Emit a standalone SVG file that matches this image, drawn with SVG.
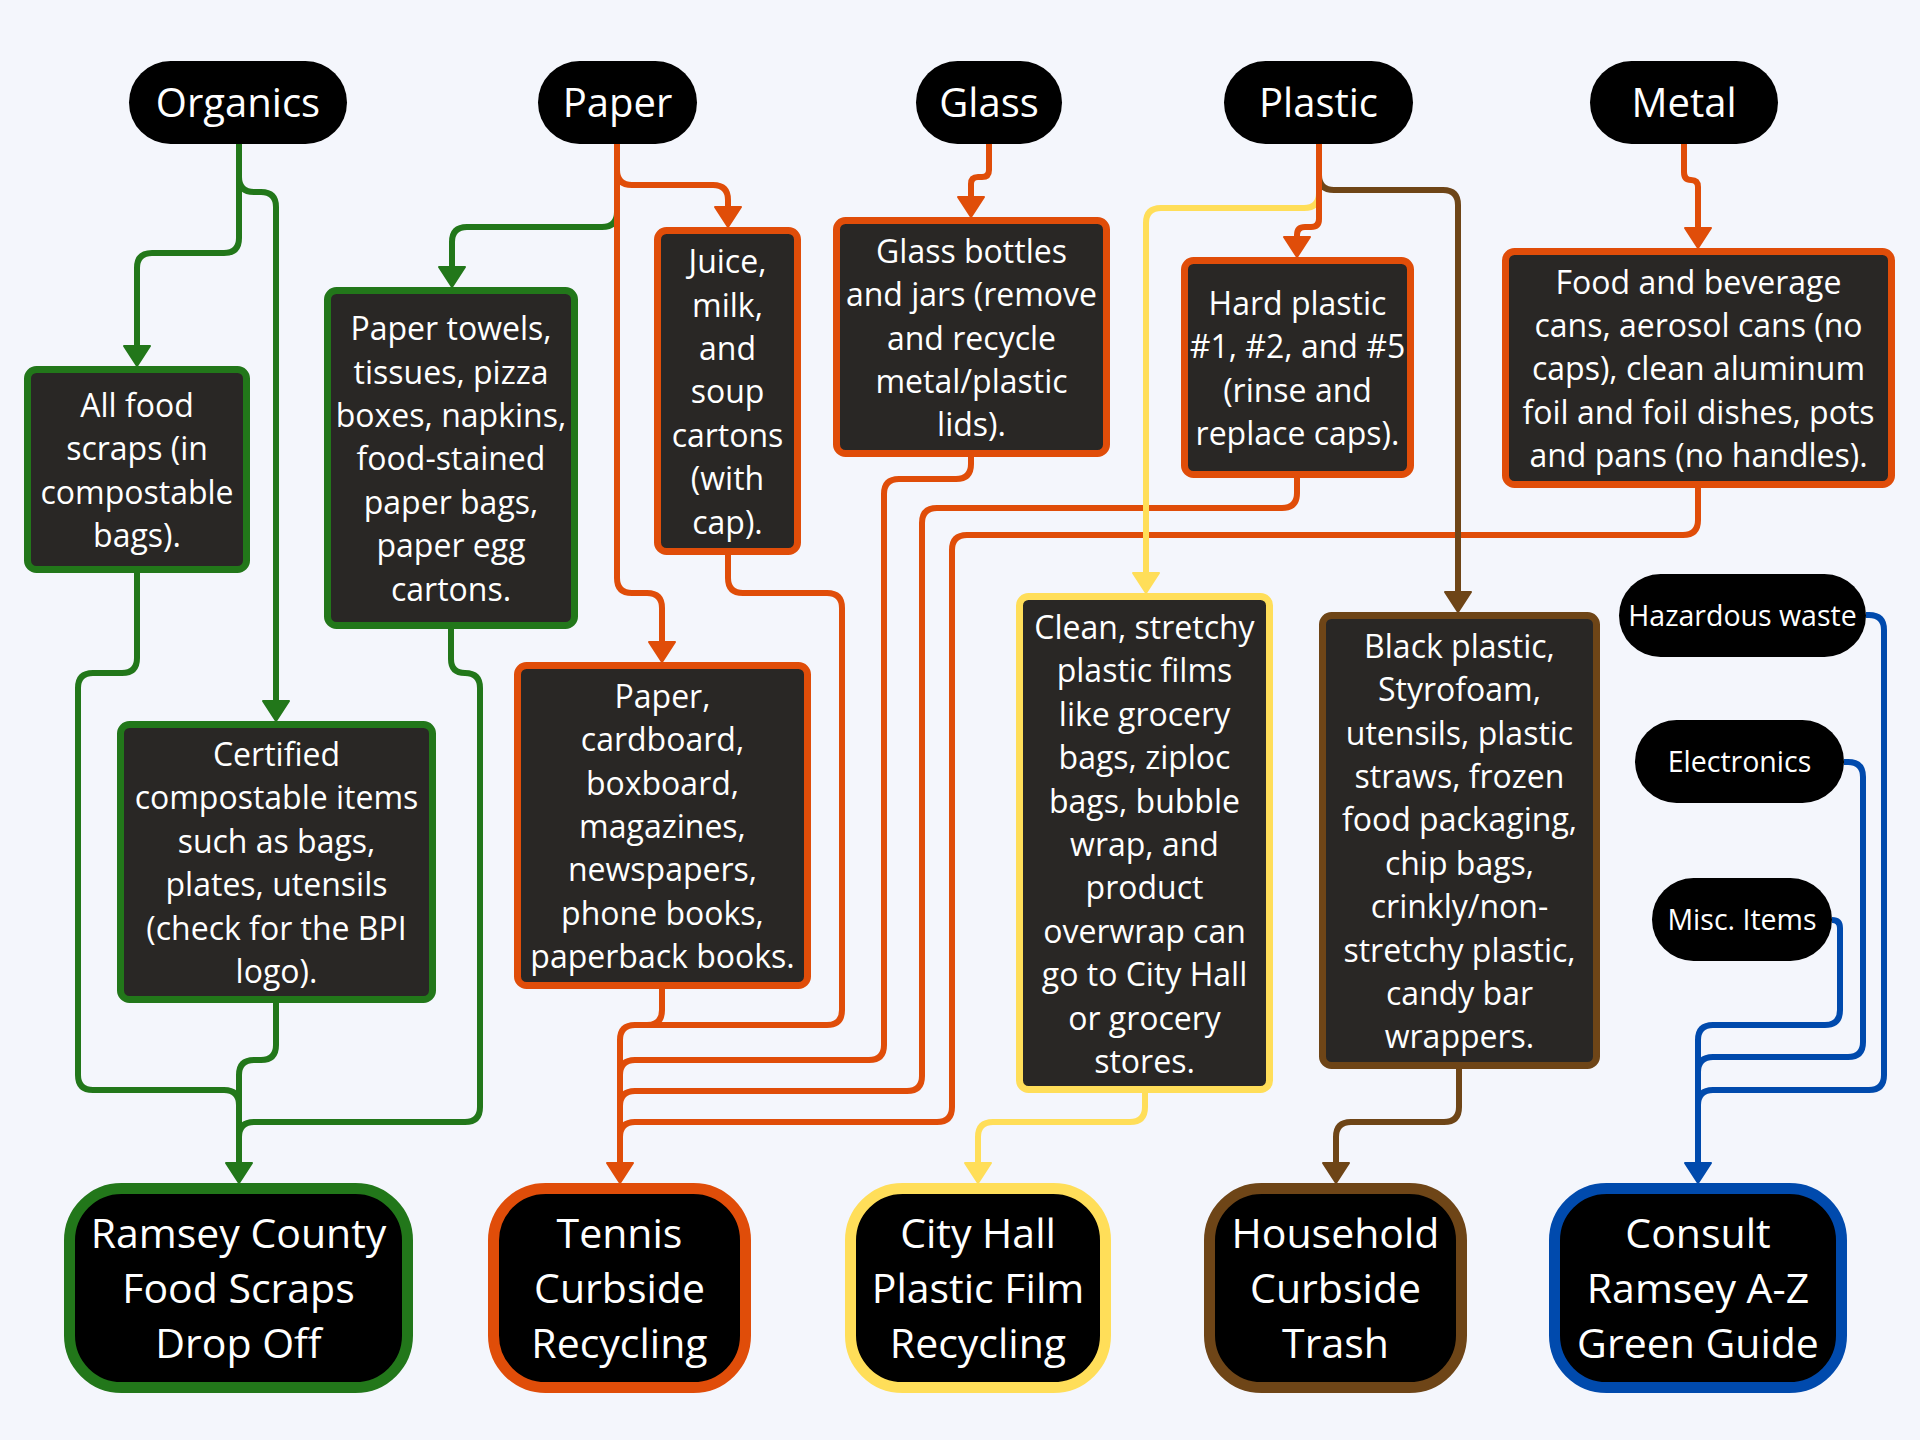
<svg xmlns="http://www.w3.org/2000/svg" width="1920" height="1440" viewBox="0 0 1920 1440">
<style>
.pill{fill:#000}
.box{fill:#292725;stroke-width:7}
.dest{fill:#000;stroke-width:11}
.c{fill:none;stroke-width:6;stroke-linejoin:round}
.gr{stroke:#22771A}.or{stroke:#E04D09}.ye{stroke:#FFDE59}.br{stroke:#6E4517}.bl{stroke:#004AAD}
text{font-family:"Open Sans","Noto Sans",sans-serif;font-weight:500;fill:#fff;text-anchor:middle}
.t32{font-size:32px}.t40{font-size:40px}.t41{font-size:41px}.t28{font-size:28.5px}
</style>
<defs>
<marker id="aG" viewBox="-2 -2 30 24" refX="13" refY="0" markerWidth="30" markerHeight="24" markerUnits="userSpaceOnUse" orient="0" overflow="visible"><path d="M0 0H26L13 20Z" fill="#22771A" stroke="#22771A" stroke-width="2" stroke-linejoin="round"/></marker>
<marker id="aO" viewBox="-2 -2 30 24" refX="13" refY="0" markerWidth="30" markerHeight="24" markerUnits="userSpaceOnUse" orient="0" overflow="visible"><path d="M0 0H26L13 20Z" fill="#E04D09" stroke="#E04D09" stroke-width="2" stroke-linejoin="round"/></marker>
<marker id="aY" viewBox="-2 -2 30 24" refX="13" refY="0" markerWidth="30" markerHeight="24" markerUnits="userSpaceOnUse" orient="0" overflow="visible"><path d="M0 0H26L13 20Z" fill="#FFDE59" stroke="#FFDE59" stroke-width="2" stroke-linejoin="round"/></marker>
<marker id="aB" viewBox="-2 -2 30 24" refX="13" refY="0" markerWidth="30" markerHeight="24" markerUnits="userSpaceOnUse" orient="0" overflow="visible"><path d="M0 0H26L13 20Z" fill="#6E4517" stroke="#6E4517" stroke-width="2" stroke-linejoin="round"/></marker>
<marker id="aL" viewBox="-2 -2 30 24" refX="13" refY="0" markerWidth="30" markerHeight="24" markerUnits="userSpaceOnUse" orient="0" overflow="visible"><path d="M0 0H26L13 20Z" fill="#004AAD" stroke="#004AAD" stroke-width="2" stroke-linejoin="round"/></marker>
</defs>
<rect width="1920" height="1440" fill="#F4F6FC"/>

<g id="connectors">
<path class="c gr" marker-end="url(#aG)" d="M239 144V238Q239 253 224 253H152Q137 253 137 268V346"/>
<path class="c gr" marker-end="url(#aG)" d="M239 144V177Q239 192 254 192H261Q276 192 276 207V701"/>
<path class="c gr" marker-end="url(#aG)" d="M617 144V212Q617 227 602 227H467Q452 227 452 242V267"/>
<path class="c gr" marker-end="url(#aG)" d="M137 573V658Q137 673 122 673H93Q78 673 78 688V1075Q78 1090 93 1090H224Q239 1090 239 1105V1163"/>
<path class="c gr" d="M276 1003V1045Q276 1060 261 1060H254Q239 1060 239 1075V1110"/>
<path class="c gr" d="M451 629V659Q451 673 465 673Q480 673 480 688V1107Q480 1122 465 1122H254Q239 1122 239 1137V1150"/>

<path class="c or" marker-end="url(#aO)" d="M617 144V170Q617 185 632 185H713Q728 185 728 200V207"/>
<path class="c or" marker-end="url(#aO)" d="M617 144V578Q617 593 632 593H647Q662 593 662 608V642"/>
<path class="c or" marker-end="url(#aO)" d="M989 144V170Q989 177 982 177H978Q971 177 971 184V197"/>
<path class="c or" marker-end="url(#aO)" d="M1684 144V172Q1684 180 1691 180Q1698 180 1698 187V228"/>
<path class="c or" marker-end="url(#aO)" d="M728 555V578Q728 593 743 593H827Q842 593 842 608V1010Q842 1025 827 1025H635Q620 1025 620 1040V1163"/>
<path class="c or" d="M662 989V1010Q662 1025 647 1025H635"/>
<path class="c or" d="M971 457V464Q971 479 956 479H899Q884 479 884 494V1045Q884 1060 869 1060H635Q620 1060 620 1075V1110"/>
<path class="c or" d="M1297 478V493Q1297 508 1282 508H937Q922 508 922 523V1076Q922 1091 907 1091H635Q620 1091 620 1106V1140"/>
<path class="c or" d="M1698 488V520Q1698 535 1683 535H967Q952 535 952 550V1107Q952 1122 937 1122H635Q620 1122 620 1137V1155"/>

<path class="c ye" marker-end="url(#aY)" d="M1319 144V193Q1319 208 1304 208H1161Q1146 208 1146 223V573"/>
<path class="c ye" marker-end="url(#aY)" d="M1145 1093V1107Q1145 1122 1130 1122H993Q978 1122 978 1137V1163"/>

<path class="c br" marker-end="url(#aB)" d="M1319 144V175Q1319 190 1334 190H1443Q1458 190 1458 205V592"/>
<path class="c br" marker-end="url(#aB)" d="M1459 1069V1107Q1459 1122 1444 1122H1351Q1336 1122 1336 1137V1163"/>

<path class="c or" marker-end="url(#aO)" d="M1319 144V219Q1319 227 1311 227H1305Q1297 227 1297 235V237"/>

<path class="c bl" d="M1866 615H1869Q1884 615 1884 630V1075Q1884 1090 1869 1090H1713Q1698 1090 1698 1105V1150"/>
<path class="c bl" d="M1844 762H1848Q1863 762 1863 777V1042Q1863 1057 1848 1057H1713Q1698 1057 1698 1072V1120"/>
<path class="c bl" marker-end="url(#aL)" d="M1832 920Q1840 920 1840 928V1010Q1840 1025 1825 1025H1713Q1698 1025 1698 1040V1163"/>
</g>

<g id="organics"><rect class="pill" x="129" y="61" width="218" height="83" rx="41.5"/><text class="t40" x="238" y="117">Organics</text></g>
<g id="paper"><rect class="pill" x="538" y="61" width="159" height="83" rx="41.5"/><text class="t40" x="617.5" y="117">Paper</text></g>
<g id="glass"><rect class="pill" x="916" y="61" width="146" height="83" rx="41.5"/><text class="t40" x="989" y="117">Glass</text></g>
<g id="plastic"><rect class="pill" x="1224" y="61" width="189" height="83" rx="41.5"/><text class="t40" x="1318.5" y="117">Plastic</text></g>
<g id="metal"><rect class="pill" x="1590" y="61" width="188" height="83" rx="41.5"/><text class="t40" x="1684" y="117">Metal</text></g>

<g id="food-scraps"><rect class="box gr" x="27.5" y="369.5" width="219" height="200" rx="9"/>
<text class="t32" x="137"><tspan x="137" y="417">All food</tspan><tspan x="137" y="460">scraps (in</tspan><tspan x="137" y="504">compostable</tspan><tspan x="137" y="547">bags).</tspan></text></g>

<g id="paper-towels"><rect class="box gr" x="327.5" y="290.5" width="247" height="335" rx="9"/>
<text class="t32"><tspan x="451" y="340">Paper towels,</tspan><tspan x="451" y="384">tissues, pizza</tspan><tspan x="451" y="427">boxes, napkins,</tspan><tspan x="451" y="470">food-stained</tspan><tspan x="451" y="514">paper bags,</tspan><tspan x="451" y="557">paper egg</tspan><tspan x="451" y="601">cartons.</tspan></text></g>

<g id="juice"><rect class="box or" x="657.5" y="230.5" width="140" height="321" rx="9"/>
<text class="t32"><tspan x="727.5" y="273">Juice,</tspan><tspan x="727.5" y="317">milk,</tspan><tspan x="727.5" y="360">and</tspan><tspan x="727.5" y="403">soup</tspan><tspan x="727.5" y="447">cartons</tspan><tspan x="727.5" y="490">(with</tspan><tspan x="727.5" y="534">cap).</tspan></text></g>

<g id="glass-bottles"><rect class="box or" x="836.5" y="220.5" width="270" height="233" rx="9"/>
<text class="t32"><tspan x="971.5" y="263">Glass bottles</tspan><tspan x="971.5" y="306">and jars (remove</tspan><tspan x="971.5" y="350">and recycle</tspan><tspan x="971.5" y="393">metal/plastic</tspan><tspan x="971.5" y="436">lids).</tspan></text></g>

<g id="hard-plastic"><rect class="box or" x="1184.5" y="260.5" width="226" height="214" rx="9"/>
<text class="t32"><tspan x="1297.5" y="315">Hard plastic</tspan><tspan x="1297.5" y="358">#1, #2, and #5</tspan><tspan x="1297.5" y="402">(rinse and</tspan><tspan x="1297.5" y="445">replace caps).</tspan></text></g>

<g id="metal-items"><rect class="box or" x="1505.5" y="251.5" width="386" height="233" rx="9"/>
<text class="t32"><tspan x="1698.5" y="294">Food and beverage</tspan><tspan x="1698.5" y="337">cans, aerosol cans (no</tspan><tspan x="1698.5" y="380">caps), clean aluminum</tspan><tspan x="1698.5" y="424">foil and foil dishes, pots</tspan><tspan x="1698.5" y="467">and pans (no handles).</tspan></text></g>

<g id="certified"><rect class="box gr" x="120.5" y="724.5" width="312" height="275" rx="9"/>
<text class="t32"><tspan x="276.5" y="766">Certified</tspan><tspan x="276.5" y="809">compostable items</tspan><tspan x="276.5" y="853">such as bags,</tspan><tspan x="276.5" y="896">plates, utensils</tspan><tspan x="276.5" y="940">(check for the BPI</tspan><tspan x="276.5" y="983">logo).</tspan></text></g>

<g id="paper-cardboard"><rect class="box or" x="517.5" y="665.5" width="290" height="320" rx="9"/>
<text class="t32"><tspan x="662.5" y="708">Paper,</tspan><tspan x="662.5" y="751">cardboard,</tspan><tspan x="662.5" y="795">boxboard,</tspan><tspan x="662.5" y="838">magazines,</tspan><tspan x="662.5" y="881">newspapers,</tspan><tspan x="662.5" y="925">phone books,</tspan><tspan x="662.5" y="968">paperback books.</tspan></text></g>

<g id="plastic-films"><rect class="box ye" x="1019.5" y="596.5" width="250" height="493" rx="9"/>
<text class="t32"><tspan x="1144.5" y="639">Clean, stretchy</tspan><tspan x="1144.5" y="682">plastic films</tspan><tspan x="1144.5" y="726">like grocery</tspan><tspan x="1144.5" y="769">bags, ziploc</tspan><tspan x="1144.5" y="813">bags, bubble</tspan><tspan x="1144.5" y="856">wrap, and</tspan><tspan x="1144.5" y="899">product</tspan><tspan x="1144.5" y="943">overwrap can</tspan><tspan x="1144.5" y="986">go to City Hall</tspan><tspan x="1144.5" y="1030">or grocery</tspan><tspan x="1144.5" y="1073">stores.</tspan></text></g>

<g id="black-plastic"><rect class="box br" x="1322.5" y="615.5" width="274" height="450" rx="9"/>
<text class="t32"><tspan x="1459.5" y="658">Black plastic,</tspan><tspan x="1459.5" y="701">Styrofoam,</tspan><tspan x="1459.5" y="745">utensils, plastic</tspan><tspan x="1459.5" y="788">straws, frozen</tspan><tspan x="1459.5" y="831">food packaging,</tspan><tspan x="1459.5" y="875">chip bags,</tspan><tspan x="1459.5" y="918">crinkly/non-</tspan><tspan x="1459.5" y="962">stretchy plastic,</tspan><tspan x="1459.5" y="1005">candy bar</tspan><tspan x="1459.5" y="1048">wrappers.</tspan></text></g>

<g id="hazardous"><rect class="pill" x="1619" y="574" width="247" height="83" rx="41.5"/><text class="t28" x="1742.5" y="626">Hazardous waste</text></g>
<g id="electronics"><rect class="pill" x="1635" y="720" width="209" height="83" rx="41.5"/><text class="t28" x="1739.5" y="772">Electronics</text></g>
<g id="misc"><rect class="pill" x="1652" y="878" width="180" height="83" rx="41.5"/><text class="t28" x="1742" y="930">Misc. Items</text></g>

<g id="ramsey-dropoff"><rect class="dest gr" x="69.5" y="1188.5" width="338" height="199" rx="52"/>
<text class="t41"><tspan x="238.5" y="1248">Ramsey County</tspan><tspan x="238.5" y="1303">Food Scraps</tspan><tspan x="238.5" y="1358">Drop Off</tspan></text></g>
<g id="tennis"><rect class="dest or" x="493.5" y="1188.5" width="252" height="199" rx="52"/>
<text class="t41"><tspan x="619.5" y="1248">Tennis</tspan><tspan x="619.5" y="1303">Curbside</tspan><tspan x="619.5" y="1358">Recycling</tspan></text></g>
<g id="city-hall"><rect class="dest ye" x="850.5" y="1188.5" width="255" height="199" rx="52"/>
<text class="t41"><tspan x="978" y="1248">City Hall</tspan><tspan x="978" y="1303">Plastic Film</tspan><tspan x="978" y="1358">Recycling</tspan></text></g>
<g id="household"><rect class="dest br" x="1209.5" y="1188.5" width="252" height="199" rx="52"/>
<text class="t41"><tspan x="1335.5" y="1248">Household</tspan><tspan x="1335.5" y="1303">Curbside</tspan><tspan x="1335.5" y="1358">Trash</tspan></text></g>
<g id="consult"><rect class="dest bl" x="1554.5" y="1188.5" width="287" height="199" rx="52"/>
<text class="t41"><tspan x="1698" y="1248">Consult</tspan><tspan x="1698" y="1303">Ramsey A-Z</tspan><tspan x="1698" y="1358">Green Guide</tspan></text></g>
</svg>
